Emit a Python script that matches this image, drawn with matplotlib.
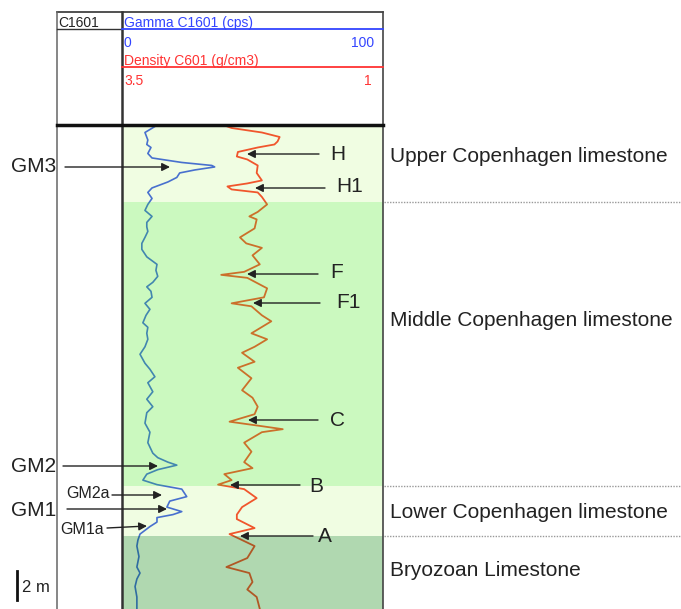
import matplotlib.pyplot as plt

plt.rcParams['font.family'] = ['Liberation Sans', 'DejaVu Sans']

# gamma log (depth in m below top of track, cps)
gamma_depth = [0.1, 0.5, 1.0, 1.3, 1.5, 1.9, 2.2, 2.5, 2.7, 2.8, 3.0, 3.2, 3.5, 3.8,
               4.2, 4.5, 4.9, 5.3, 5.7, 6.1, 6.5, 6.8, 7.1, 7.5, 7.9, 8.3, 8.8, 9.3,
               9.7, 10.1, 10.5, 10.8, 11.1, 11.5, 11.9, 12.3, 12.7, 13.2, 13.5, 13.9,
               14.3, 14.8, 15.3, 15.9, 16.3, 16.8, 17.2, 17.8, 18.3, 18.8, 19.2, 19.9,
               20.5, 21.2, 21.9, 22.2, 22.5, 22.7, 23.0, 23.3, 23.7, 24.0, 24.3, 24.8,
               25.1, 25.5, 25.8, 26.0, 26.2, 26.5, 26.8, 27.3, 27.7, 28.1, 28.8, 29.5,
               29.9, 30.3, 30.8, 31.5, 32.3]
gamma_cps = [12.6, 8.8, 9.9, 9.5, 11.1, 9.9, 11.5, 22.9, 34.4, 35.5, 27.9, 22.1, 21.0, 17.6,
             11.5, 9.9, 11.5, 9.9, 8.8, 11.5, 9.5, 9.5, 9.9, 8.8, 7.6, 7.6, 9.5, 13.4,
             13.0, 13.7, 11.8, 9.5, 11.1, 11.5, 8.8, 10.7, 9.2, 8.0, 9.9, 9.5,
             9.9, 8.8, 6.9, 8.8, 10.7, 12.6, 9.9, 11.8, 9.5, 11.8, 9.5, 8.8,
             10.7, 9.9, 11.8, 13.7, 17.6, 21.0, 13.7, 9.5, 8.0, 13.4, 22.9, 24.8,
             18.3, 17.2, 22.9, 19.5, 13.4, 13.4, 10.7, 6.9, 6.1, 5.7, 6.5, 5.7,
             6.9, 5.7, 5.0, 5.7, 5.7]

# density log (g/cm3)
dens_depth = [0.1, 0.2, 0.5, 0.8, 1.1, 1.3, 1.5, 1.8, 2.1, 2.3, 2.7, 3.2, 3.7, 3.9,
              4.1, 4.3, 4.5, 4.8, 5.3, 5.8, 6.1, 6.3, 6.9, 7.5, 7.9, 8.2, 8.7, 9.3,
              9.8, 10.0, 10.2, 10.9, 11.5, 11.9, 12.1, 12.7, 13.1, 13.9, 14.3, 14.8,
              15.2, 15.8, 16.2, 16.9, 17.7, 18.2, 18.8, 19.3, 19.8, 20.1, 20.3, 20.5,
              21.2, 21.8, 22.5, 22.9, 23.3, 23.7, 24.0, 24.3, 24.9, 25.5, 26.0, 26.3,
              26.9, 27.3, 27.7, 28.1, 28.9, 29.5, 29.9, 30.5, 31.0, 31.5, 32.3]
density = [2.49, 2.45, 2.16, 1.99, 2.01, 2.04, 2.20, 2.39, 2.40, 2.30, 2.20, 2.21, 2.16, 2.30,
           2.49, 2.45, 2.20, 2.16, 2.11, 2.20, 2.28, 2.21, 2.23, 2.37, 2.31, 2.16, 2.25, 2.18,
           2.33, 2.55, 2.30, 2.11, 2.14, 2.45, 2.26, 2.16, 2.07, 2.26, 2.11, 2.23,
           2.35, 2.23, 2.39, 2.26, 2.35, 2.25, 2.20, 2.23, 2.47, 2.16, 1.96, 2.16,
           2.33, 2.26, 2.33, 2.25, 2.52, 2.45, 2.58, 2.33, 2.21, 2.35, 2.40, 2.40,
           2.23, 2.47, 2.35, 2.23, 2.30, 2.50, 2.28, 2.25, 2.30, 2.21, 2.18]

# formation zones (top, base in m)
zone_names = ['Upper Copenhagen limestone', 'Middle Copenhagen limestone',
              'Lower Copenhagen limestone', 'Bryozoan Limestone']
zone_top = [0.0, 5.13, 24.07, 27.4]
zone_base = [5.13, 24.07, 27.4, 32.3]
zone_colors = ['#9bf23e', '#55ee2d', '#9bf23e', '#1d901d']
zone_alpha = [0.15, 0.3, 0.15, 0.35]

W, H = 681, 609
fig = plt.figure(figsize=(W / 100, H / 100), dpi=100)

# log track
ax = fig.add_axes([122 / W, 0, 261 / W, 484 / H])
ax.plot(gamma_cps, gamma_depth, color='#3a5ae8', lw=1.2, zorder=1,
        solid_joinstyle='round')
ax.set_xlim(0, 100)
ax.set_ylim(32.3, 0)
ax2 = ax.twiny()
ax2.plot(density, dens_depth, color='#ff3b2a', lw=1.3, zorder=1,
         solid_joinstyle='round')
ax2.set_xlim(3.5, 1)
for top, base, c, a in zip(zone_top, zone_base, zone_colors, zone_alpha):
    ax2.axhspan(top, base, color=c, alpha=a, lw=0, zorder=2)
for a_ in (ax, ax2):
    a_.set_xticks([])
    a_.set_yticks([])
    for s in a_.spines.values():
        s.set_visible(False)

# overlay in pixel coordinates for header, labels and arrows
ov = fig.add_axes([0, 0, 1, 1], facecolor='none')
ov.set_xlim(0, W)
ov.set_ylim(H, 0)
ov.axis('off')

# header box and column lines
ov.plot([57, 383], [12, 12], color='#333', lw=1.2)
ov.plot([57, 57], [12, H], color='#666', lw=1.1)
ov.plot([122, 122], [12, H], color='#333', lw=1.8)
ov.plot([383, 383], [12, H], color='#444', lw=1.2)
ov.plot([57, 383], [125, 125], color='#111', lw=2.5)
ov.plot([57, 122], [29, 29], color='#333', lw=1)
ov.plot([122, 383], [29, 29], color='#3344ff', lw=1.3)
ov.plot([122, 383], [67, 67], color='#ff3333', lw=1.3)

hdr = dict(fontsize=10, va='baseline')
ov.text(58, 27, 'C1601', color='#222', **hdr)
ov.text(124, 27, 'Gamma C1601 (cps)', color='#3344ff', **hdr)
ov.text(124, 47, '0', color='#3344ff', **hdr)
ov.text(374, 47, '100', color='#3344ff', ha='right', **hdr)
ov.text(124, 65, 'Density C601 (g/cm3)', color='#ff3333', **hdr)
ov.text(124, 85, '3.5', color='#ff3333', **hdr)
ov.text(372, 85, '1', color='#ff3333', ha='right', **hdr)

# zone boundaries and names
for yb in (202, 486, 536):
    ov.plot([384, W], [yb, yb], color='#999', lw=1, ls=(0, (1, 1)))
for name, yc in zip(zone_names, [157, 320, 512, 570]):
    ov.text(390, yc, name, fontsize=15, color='#222', va='center')

# scale bar
ov.plot([17, 17], [571, 600], color='#111', lw=2)
ov.text(22, 587, '2 m', fontsize=12, color='#222', va='center')

arrow = dict(arrowstyle='-|>', color='#222', lw=1, mutation_scale=12, shrinkA=0, shrinkB=0)

def mark(label, size, tx, ty, ha, x0, y0, x1, y1):
    ov.text(tx, ty, label, fontsize=size, color='#222', ha=ha, va='center')
    ov.annotate('', xy=(x1, y1), xytext=(x0, y0), arrowprops=arrow)

# gamma markers
mark('GM3', 15, 56, 167, 'right', 65, 167, 170, 167)
mark('GM2', 15, 56, 466, 'right', 63, 466, 158, 466)
mark('GM2a', 11.5, 66, 494, 'left', 112, 495, 162, 495)
mark('GM1', 15, 56, 510, 'right', 67, 509, 167, 509)
mark('GM1a', 11.5, 60, 529, 'left', 107, 528, 147, 526)

# density markers
mark('H', 15, 330, 154, 'left', 319, 154, 247, 154)
mark('H1', 15, 336, 187, 'left', 325, 188, 255, 188)
mark('F', 15, 330, 272, 'left', 318, 274, 247, 274)
mark('F1', 15, 336, 302, 'left', 320, 303, 253, 303)
mark('C', 15, 330, 420, 'left', 318, 420, 248, 420)
mark('B', 15, 309, 486, 'left', 300, 485, 230, 485)
mark('A', 15, 318, 537, 'left', 313, 536, 240, 536)

fig.savefig('out.png', dpi=100)
